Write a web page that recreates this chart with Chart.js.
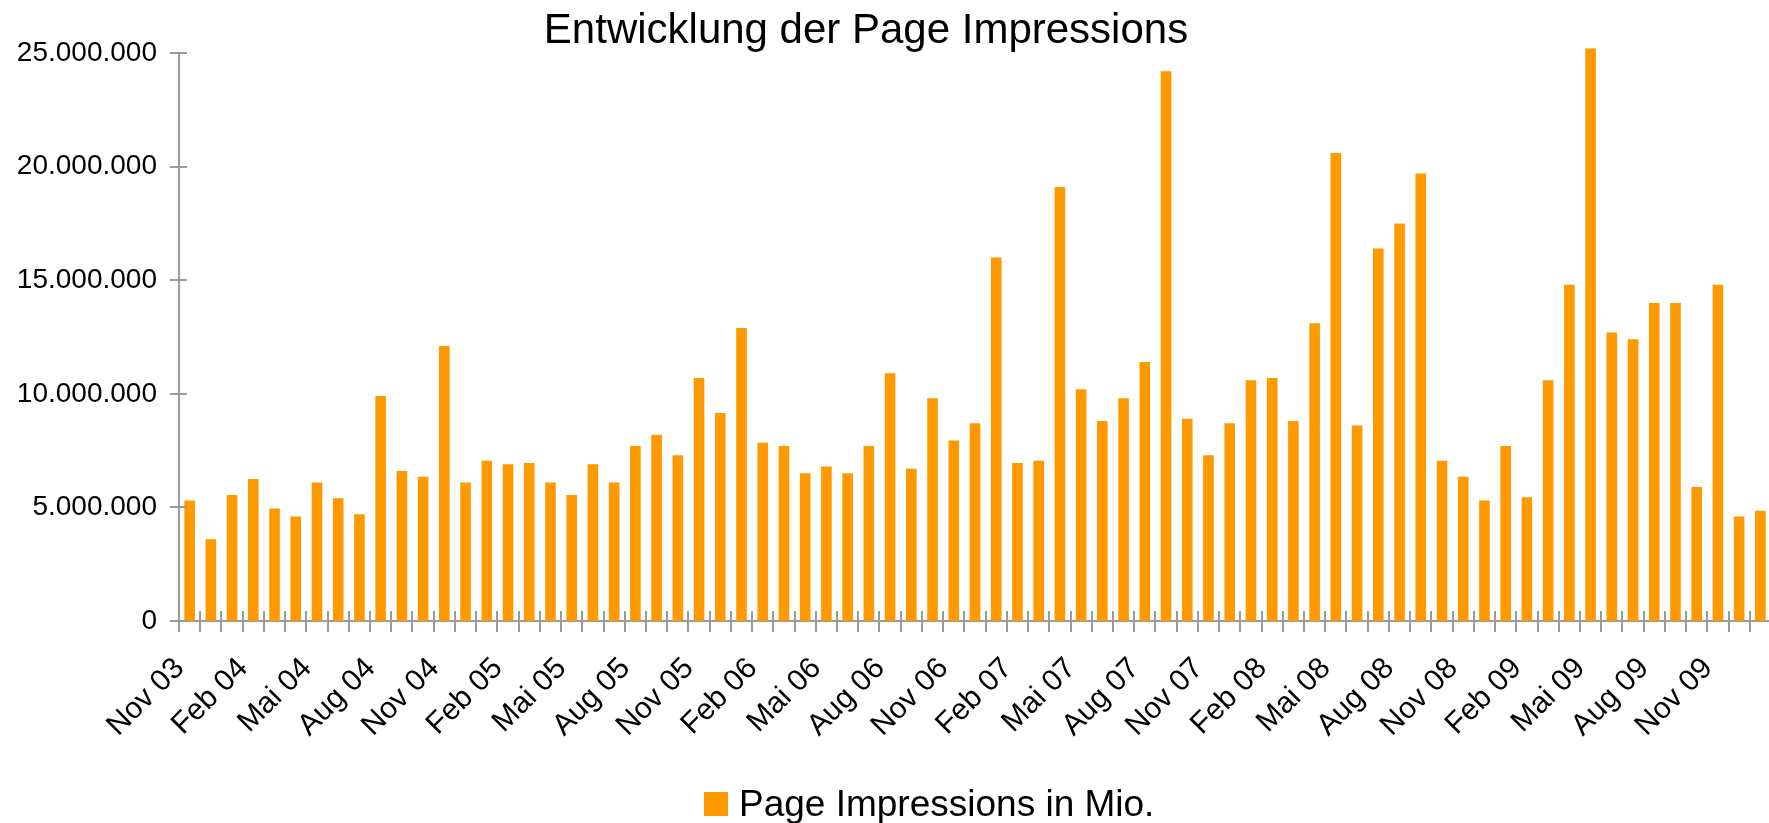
<!DOCTYPE html>
<html>
<head>
<meta charset="utf-8">
<title>Entwicklung der Page Impressions</title>
<script src="https://cdn.jsdelivr.net/npm/chart.js@4.4.1/dist/chart.umd.min.js"></script>
<style>
    html, body { margin: 0; padding: 0; background: #fff; overflow: hidden; }
    #wrap { width: 1771px; height: 823px; }
</style>
</head>
<body>
<div id="wrap"><canvas id="chart" width="1771" height="823"></canvas></div>
<script>
const chartTitle = 'Entwicklung der Page Impressions';
const seriesLabel = 'Page Impressions in Mio.';

const months = [
    'Nov 03', 'Dez 03',
    'Jan 04', 'Feb 04', 'Mär 04', 'Apr 04', 'Mai 04', 'Jun 04', 'Jul 04', 'Aug 04', 'Sep 04', 'Okt 04', 'Nov 04', 'Dez 04',
    'Jan 05', 'Feb 05', 'Mär 05', 'Apr 05', 'Mai 05', 'Jun 05', 'Jul 05', 'Aug 05', 'Sep 05', 'Okt 05', 'Nov 05', 'Dez 05',
    'Jan 06', 'Feb 06', 'Mär 06', 'Apr 06', 'Mai 06', 'Jun 06', 'Jul 06', 'Aug 06', 'Sep 06', 'Okt 06', 'Nov 06', 'Dez 06',
    'Jan 07', 'Feb 07', 'Mär 07', 'Apr 07', 'Mai 07', 'Jun 07', 'Jul 07', 'Aug 07', 'Sep 07', 'Okt 07', 'Nov 07', 'Dez 07',
    'Jan 08', 'Feb 08', 'Mär 08', 'Apr 08', 'Mai 08', 'Jun 08', 'Jul 08', 'Aug 08', 'Sep 08', 'Okt 08', 'Nov 08', 'Dez 08',
    'Jan 09', 'Feb 09', 'Mär 09', 'Apr 09', 'Mai 09', 'Jun 09', 'Jul 09', 'Aug 09', 'Sep 09', 'Okt 09', 'Nov 09', 'Dez 09',
    'Jan 10'
];

// monthly page impressions
const pageImpressions = [
    5300000, 3600000,
    5550000, 6250000, 4950000, 4600000, 6100000, 5400000, 4700000, 9900000, 6600000, 6350000, 12100000, 6100000,
    7050000, 6900000, 6950000, 6100000, 5550000, 6900000, 6100000, 7700000, 8200000, 7300000, 10700000, 9150000,
    12900000, 7850000, 7700000, 6500000, 6800000, 6500000, 7700000, 10900000, 6700000, 9800000, 7950000, 8700000,
    16000000, 6950000, 7050000, 19100000, 10200000, 8800000, 9800000, 11400000, 24200000, 8900000, 7300000, 8700000,
    10600000, 10700000, 8800000, 13100000, 20600000, 8600000, 16400000, 17500000, 19700000, 7050000, 6350000, 5300000,
    7700000, 5450000, 10600000, 14800000, 25200000, 12700000, 12400000, 14000000, 14000000, 5900000, 14800000, 4600000,
    4850000
];

const yMin = 0;
const yMax = 25000000;
const yStep = 5000000;
const labelEvery = 3;

const barColor = '#ff9900';
const axisColor = '#9b9b9b';
const fontFamily = '"Liberation Sans", Arial, sans-serif';

function formatDe(n) {
    return String(n).replace(/\B(?=(\d{3})+(?!\d))/g, '.');
}

// tick marks crossing both axes, like the original office chart
const axisMarks = {
    id: 'axisMarks',
    afterDatasetsDraw(chart) {
        const ctx = chart.ctx;
        const xs = chart.scales.x;
        const ys = chart.scales.y;
        const area = chart.chartArea;
        ctx.save();
        ctx.strokeStyle = axisColor;
        ctx.lineWidth = 2;
        ctx.beginPath();
        ys.ticks.forEach(t => {
            const py = Math.round(ys.getPixelForValue(t.value));
            ctx.moveTo(area.left - 9, py);
            ctx.lineTo(area.left + 8, py);
        });
        const half = (xs.getPixelForTick(1) - xs.getPixelForTick(0)) / 2;
        for (let i = 0; i <= months.length; i++) {
            const px = Math.round(xs.getPixelForTick(0) - half + i * 2 * half);
            ctx.moveTo(px, area.bottom - 10);
            ctx.lineTo(px, area.bottom + 11);
        }
        ctx.stroke();
        ctx.restore();
    }
};

const headerFooter = {
    id: 'headerFooter',
    afterDraw(chart) {
        const ctx = chart.ctx;
        ctx.save();
        ctx.fillStyle = '#000';
        ctx.font = '42px ' + fontFamily;
        ctx.textAlign = 'center';
        ctx.textBaseline = 'alphabetic';
        ctx.fillText(chartTitle, 866, 43);

        ctx.fillStyle = barColor;
        ctx.fillRect(704, 792, 24, 24);
        ctx.fillStyle = '#000';
        ctx.font = '37px ' + fontFamily;
        ctx.textAlign = 'left';
        ctx.fillText(seriesLabel, 739, 816);
        ctx.restore();
    }
};

new Chart(document.getElementById('chart'), {
    type: 'bar',
    data: {
        labels: months,
        datasets: [{
            label: seriesLabel,
            data: pageImpressions,
            backgroundColor: barColor,
            borderWidth: 0,
            barPercentage: 0.5,
            categoryPercentage: 1.0,
            clip: false
        }]
    },
    options: {
        responsive: false,
        devicePixelRatio: 1,
        animation: false,
        layout: { padding: { top: 53, left: 0, right: 0, bottom: 0 } },
        plugins: {
            legend: { display: false },
            title: { display: false },
            tooltip: { enabled: false }
        },
        scales: {
            x: {
                grid: { display: false, drawTicks: false },
                border: { display: true, color: axisColor, width: 2 },
                ticks: {
                    autoSkip: false,
                    minRotation: 45,
                    maxRotation: 45,
                    padding: 30,
                    labelOffset: -10,
                    color: '#000',
                    font: { family: fontFamily, size: 30 },
                    callback: (value, index) => index % labelEvery === 0 ? months[index] : ''
                },
                afterFit: scale => {
                    scale.height = 202;
                    scale.paddingLeft = 0;
                    scale.paddingRight = 0;
                }
            },
            y: {
                min: yMin,
                max: yMax,
                grid: { display: false, drawTicks: false },
                border: { display: true, color: axisColor, width: 2 },
                ticks: {
                    stepSize: yStep,
                    padding: 22,
                    color: '#000',
                    font: { family: fontFamily, size: 28 },
                    callback: value => formatDe(value)
                },
                afterFit: scale => {
                    scale.width = 179;
                    scale.paddingTop = 0;
                    scale.paddingBottom = 0;
                }
            }
        }
    },
    plugins: [axisMarks, headerFooter]
});
</script>
</body>
</html>
